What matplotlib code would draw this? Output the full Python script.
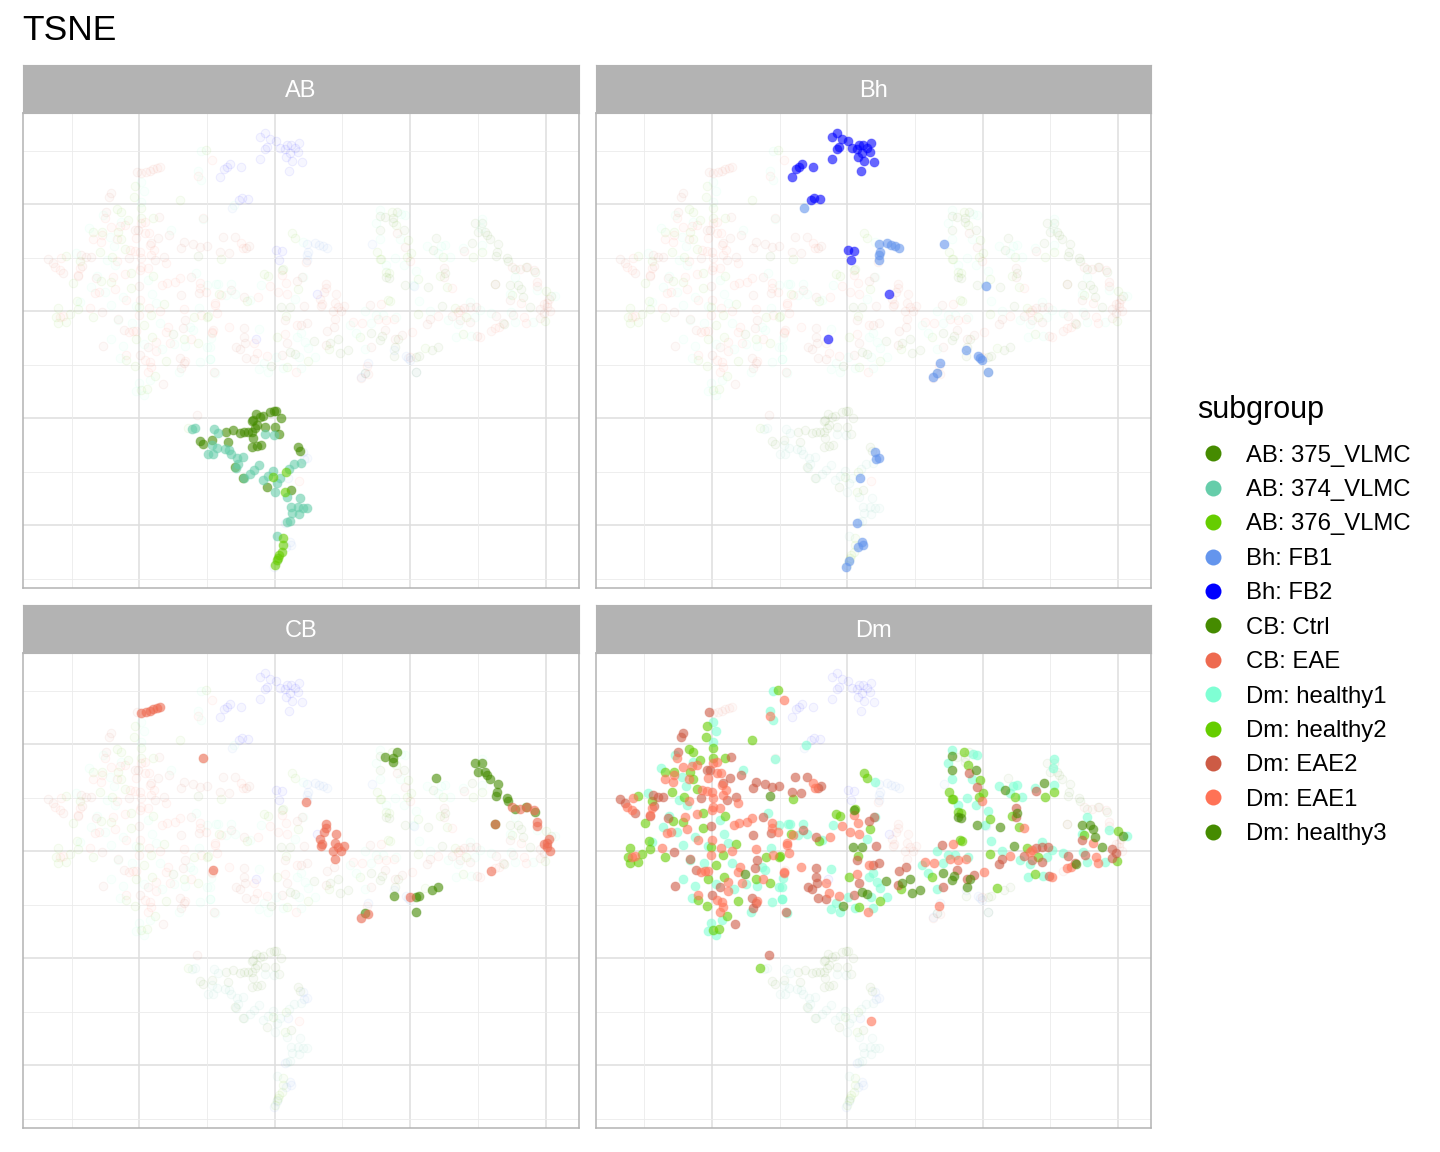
import matplotlib
matplotlib.use('Agg')
import matplotlib.pyplot as plt
from matplotlib.colors import to_rgba
from matplotlib.lines import Line2D
import numpy as np

plt.rcParams['font.family'] = ['Liberation Sans', 'DejaVu Sans']

# embedding coordinates, the axes carry no tick labels
ab_375 = [(-19,4),(-22,-2),(-23,-3),(-15,1),(-12,2),(-5,6),(-1,7),(1,7),(6,0),(-18,-7),(-10,-9),(0,-9),
          (-20,-10),(-23,-14),(-27,-14),(-31,-14),(-35,-15),(-42,-12),(-49,-14),(4,-16),(-22,-20),(-23,-29),
          (-18,-28),(-14,-27),(-75,-23),(-72,-26),(-63,-22),(-47,-24),(23,-29),(25,-33),(-40,-49),(-32,-60),
          (-8,-69),(16,-72)]
ab_374 = [(-83,-11),(-80,-10),(-61,-11),(-57,-15),(-10,-16),(-1,-17),(-63,-27),(-58,-30),(-50,-31),(-46,-32),
          (-67,-36),(-62,-36),(-44,-36),(-38,-40),(-32,-39),(-37,-46),(-39,-50),(-16,-47),(-21,-52),(-25,-56),
          (-31,-60),(-2,-53),(26,-45),(19,-46),(14,-51),(-7,-58),(-12,-62),(5,-60),(2,-65),(0,-74),(12,-79),
          (25,-80),(16,-89),(23,-89),(28,-90),(32,-90),(17,-95),(24,-96),(12,-104),(15,-103),(2,-118)]
ab_376 = [(-2,-59),(11,-54),(10,-74),(8,-120),(8,-127),(7,-134),(4,-137),(3,-140),(2,-142),(0,-147)]
bh_fb1 = [(-43,210),(32,174),(40,175),(44,173),(48,172),(52,170),(33,166),(32,163),(32,158),(97,174),(139,132),
          (119,68),(131,62),(133,60),(135,58),(93,55),(141,46),(90,45),(86,41),(28,-34),(32,-40),(29,-41),
          (13,-60),(10,-105),(15,-124),(11,-129),(16,-127),(2,-143),(-1,-149)]
bh_fb2 = [(-10,285),(-15,281),(-5,279),(1,277),(-8,271),(-10,269),(5,270),(12,273),(16,273),(24,275),(20,270),
          (10,269),(15,265),(23,266),(11,261),(17,257),(27,256),(14,247),(-15,259),(-34,251),(-45,254),(-48,251),
          (-51,249),(-55,241),(-36,218),(-33,220),(-27,219),(1,168),(7,167),(4,158),(42,124),(-19,79)]
cb_ctrl = [(110,201),(118,200),(122,206),(118,196),(161,180),(200,195),(207,195),(203,186),(210,186),(212,183),
           (215,179),(223,174),(222,166),(221,162),(232,160),(233,157),(240,149),(251,151),(260,146),(220,134),
           (119,62),(141,61),(144,62),(157,68),(163,71),(141,46),(90,45)]
cb_eae = [(-134,245),(-129,246),(-125,247),(-122,249),(-118,250),(-115,251),(-72,200),(31,156),(51,134),(51,130),
          (49,126),(61,124),(45,119),(47,114),(46,112),(60,115),(69,112),(63,111),(58,107),(66,107),(60,99),
          (-62,88),(237,151),(245,149),(252,151),(259,148),(262,136),(262,132),(220,134),(274,119),(272,115),
          (269,114),(272,111),(275,107),(216,87),(135,61),(93,44),(86,40)]
dm_healthy1 = [(-74,267),(-77,247),(-74,238),(-134,236),(-131,227),(-134,216),(-172,203),(-72,199),(-154,196),
               (-186,190),(-104,188),(-165,181),(-161,172),(-199,165),(-168,158),(-160,153),(-127,138),(-178,142),
               (-184,131),(-170,126),(-123,124),(-152,121),(-164,113),(-139,112),(-119,115),(-195,116),(-143,95),
               (-157,98),(-115,95),(-164,79),(-152,72),(-155,60),(-113,69),(-131,74),(-101,74),(-90,72),(-85,91),
               (-82,88),(-76,110),(-68,71),(-65,59),(-75,56),(-79,145),(-68,133),(-59,134),(-96,46),(-136,35),
               (-139,27),(-131,23),(-64,80),(-125,38),
               (-41,213),(105,208),(101,195),(105,179),(28,176),(-57,134),(-44,134),(-14,133),(-49,123),(-40,124),
               (-25,118),(20,119),(28,141),(90,107),(101,103),(-16,89),(22,81),(26,85),(30,76),(33,70),(1,61),
               (-65,71),(-65,59),(-11,55),(-16,49),(-7,46),(8,50),(26,50),(40,61),(24,61),(75,93),(81,85),(90,69),
               (108,103),(96,95),(-60,45),(111,153),
               (207,199),(206,190),(126,204),(130,203),(125,179),(120,160),(129,153),(152,172),(166,172),(170,173),
               (163,165),(175,161),(188,170),(207,173),(141,147),(138,133),(144,117),(155,107),(173,98),(183,94),
               (195,116),(205,108),(200,101),(181,81),(196,82),(216,105),(240,141),(235,124),(262,128),(280,122),
               (236,106),(240,96),(258,96),(121,101)]
dm_healthy2 = [(-69,268),(-140,232),(-141,221),(-95,218),(-134,210),(-158,209),(-154,206),(-147,198),(-134,200),
               (-122,200),(-182,186),(-173,186),(-157,186),(-154,179),(-175,166),(-150,169),(-163,161),(-209,162),
               (-195,157),(-202,135),(-174,137),(-164,136),(-144,145),(-122,142),(-144,130),(-198,117),(-197,109),
               (-217,110),(-205,104),(-219,101),(-217,95),(-209,96),(-182,101),(-136,111),(-124,103),(-111,114),
               (-131,93),(-81,101),(-68,101),(-139,79),(-123,81),(-91,79),(-77,75),(-149,58),(-140,52),(-109,57),
               (-120,42),(-134,28),(-128,29),
               (-54,159),(17,185),(20,180),(-11,144),(-7,142),(8,149),(23,129),(-28,117),(-56,124),(11,102),(2,81),
               (33,57),(12,51),(102,166),(105,159),(54,69),(85,81),(113,118),(111,146),(-67,102),
               (117,206),(121,193),(133,178),(136,165),(132,161),(106,159),(114,145),(143,139),(168,161),(198,161),
               (207,166),(165,142),(172,131),(115,117),(143,104),(180,110),(191,101),(188,84),(150,70),(237,123),
               (271,127),(270,97),(-87,-10)]
dm_eae2 = [(-138,246),(-164,225),(-166,221),(-227,159),(-222,155),(-212,145),(-194,163),(-189,161),(-184,161),
           (-197,142),(-193,152),(-179,140),(-140,188),(-137,188),(-117,180),(-124,175),(-146,160),(-120,158),
           (-111,161),(-91,176),(-94,170),(-82,174),(-75,171),(-68,172),(-84,141),(-76,125),(-94,123),(-136,132),
           (-173,106),(-157,99),(-151,88),(-92,90),(-90,98),(-172,72),(-127,71),(-135,63),(-95,60),(-91,55),(-94,50),
           (-61,46),(-112,34),(-169,206),(-116,201),(-106,183),
           (-52,181),(-40,181),(-55,166),(-46,165),(-26,172),(-29,170),(-31,121),(-44,128),(27,141),(22,137),(29,112),
           (10,98),(32,95),(-31,90),(-31,81),(-39,71),(-30,75),(-35,69),(-29,60),(-21,59),(7,63),(12,75),(52,87),
           (59,91),(51,73),(95,113),(96,71),(110,88),(26,93),
           (122,185),(130,171),(189,167),(169,150),(169,141),(155,99),(152,94),(195,111),(201,111),(189,110),(177,102),
           (185,98),(195,96),(202,82),(127,83),(120,79),(221,102),(228,95),(235,118),(238,103),(265,109),(269,105),
           (265,100),(-78,3)]
dm_eae1 = [(-77,242),(-63,258),(-170,200),(-164,191),(-155,192),(-150,193),(-130,196),(-134,195),(-173,183),
           (-174,176),(-182,179),(-158,179),(-139,180),(-130,185),(-126,185),(-125,173),(-121,168),(-145,168),
           (-140,167),(-135,166),(-124,163),(-134,160),(-134,151),(-135,148),(-127,150),(-109,155),(-158,157),
           (-214,160),(-220,151),(-215,148),(-195,150),(-150,144),(-162,141),(-160,129),(-180,125),(-176,126),
           (-149,118),(-135,118),(-136,103),(-126,110),(-115,107),(-113,133),(-108,135),(-100,136),(-95,140),
           (-75,135),(-75,130),(-69,126),(-91,109),(-74,103),(-185,110),(-215,101),(-212,102),(-142,87),(-139,87),
           (-146,86),(-107,91),(-109,86),(-105,75),(-119,76),(-119,67),(-84,79),(-63,86),(-149,63),(-130,58),
           (-125,56),(-124,51),(-127,46),(-90,57),(-60,115),(-197,143),
           (-34,175),(-32,170),(-54,123),(-17,121),(3,126),(11,135),(12,124),(7,143),(-5,132),(-60,113),(-58,105),
           (-46,91),(-63,85),(22,93),(10,84),(-21,75),(-18,65),(-8,62),(21,46),(92,52),(106,114),(78,96),(103,99),
           (111,98),(87,95),
           (135,157),(177,130),(119,99),(137,86),(163,102),(183,106),(185,108),(205,81),(246,115),(249,101),(251,95),
           (220,90),(224,91),(24,-63)]
dm_healthy3 = [(-77,162),(-102,84),(105,202),(105,188),(7,148),(6,111),(15,111),(15,66),(20,64),(39,77),(-4,52),
               (55,75),(63,79),(65,65),(73,68),(96,85),(107,82),(105,78),(111,141),
               (129,188),(158,168),(197,175),(170,145),(130,133),(153,131),(114,140),(167,112),(246,129),(235,133),
               (243,133),(248,121),(255,111),(276,122),(229,94),(123,79),(120,71)]

labels = ['AB: 375_VLMC', 'AB: 374_VLMC', 'AB: 376_VLMC', 'Bh: FB1', 'Bh: FB2', 'CB: Ctrl', 'CB: EAE',
          'Dm: healthy1', 'Dm: healthy2', 'Dm: EAE2', 'Dm: EAE1', 'Dm: healthy3']
colors = ['#458B00', '#66CDAA', '#66CD00', '#6495ED', '#0000FF', '#458B00', '#EE6A50',
          '#7FFFD4', '#66CD00', '#CD5B45', '#FF7256', '#458B00']
groups = [ab_375, ab_374, ab_376, bh_fb1, bh_fb2, cb_ctrl, cb_eae,
          dm_healthy1, dm_healthy2, dm_eae2, dm_eae1, dm_healthy3]
panels = ['AB', 'Bh', 'CB', 'Dm']

W, H = 1440, 1152
fig = plt.figure(figsize=(W / 100, H / 100), dpi=100)
fig.text(22 / W, 1 - 31 / H, 'TSNE', fontsize=25.5, va='center', ha='left')

lefts = [23, 595.5, 23, 595.5]
tops = [113, 113, 653, 653]
pw, ph = 555.5, 475
strip = 48
grey = '#B3B3B3'
major = [-135.5, 0, 135.5, 271]
minor_x = [-203.25, -67.75, 67.75, 203.25]
minor_y = [-160.5, -53.5, 53.5, 160.5, 267.5]
major_y = [-107, 0, 107, 214]

for i, name in enumerate(panels):
    ax = fig.add_axes([lefts[i] / W, 1 - (tops[i] + ph) / H, pw / W, ph / H])
    ax.set_xlim(-252, 304)
    ax.set_ylim(-170, 305)
    for v in major:
        ax.axvline(v, color='#DEDEDE', lw=1.1, zorder=1)
    for v in major_y:
        ax.axhline(v, color='#DEDEDE', lw=1.1, zorder=1)
    for v in minor_x:
        ax.axvline(v, color='#EBEBEB', lw=0.6, zorder=1)
    for v in minor_y:
        ax.axhline(v, color='#EBEBEB', lw=0.6, zorder=1)
    ax.set_xticks([])
    ax.set_yticks([])
    for s in ax.spines.values():
        s.set_color(grey)
        s.set_linewidth(1.1)

    # every cell stays as a faint ring, the panel's own subgroups go on top
    for lab, col, pts in zip(labels, colors, groups):
        if lab.split(':')[0] == name:
            continue
        a = np.array(pts)
        ax.scatter(a[:, 0], a[:, 1], s=38, facecolor=to_rgba(col, 0.035), edgecolor=to_rgba(col, 0.06),
                   linewidths=0.8, zorder=2)
    for lab, col, pts in zip(labels, colors, groups):
        if lab.split(':')[0] != name:
            continue
        a = np.array(pts)
        ax.scatter(a[:, 0], a[:, 1], s=44, facecolor=to_rgba(col, 0.6), edgecolor=to_rgba(col, 0.2),
                   linewidths=0.8, zorder=3)

    # strip above the panel
    sax = fig.add_axes([lefts[i] / W, 1 - tops[i] / H, pw / W, strip / H])
    sax.set_xticks([])
    sax.set_yticks([])
    sax.set_facecolor(grey)
    for s in sax.spines.values():
        s.set_color(grey)
    sax.text(0.5, 0.46, name, color='white', fontsize=17, ha='center', va='center', transform=sax.transAxes)

handles = [Line2D([], [], ls='', marker='o', ms=11.5, mfc=c, mec=c, mew=0) for c in colors]
leg = fig.legend(handles, labels, loc='upper left', bbox_to_anchor=(1190 / W, 1 - 388 / H), frameon=False,
                 title='subgroup', fontsize=17.2, title_fontsize=22, labelspacing=0.52, handlelength=1.35,
                 handletextpad=0.7, borderpad=0.3, borderaxespad=0, alignment='left')
leg._legend_box.sep = 14

fig.savefig('out.png', dpi=100)
